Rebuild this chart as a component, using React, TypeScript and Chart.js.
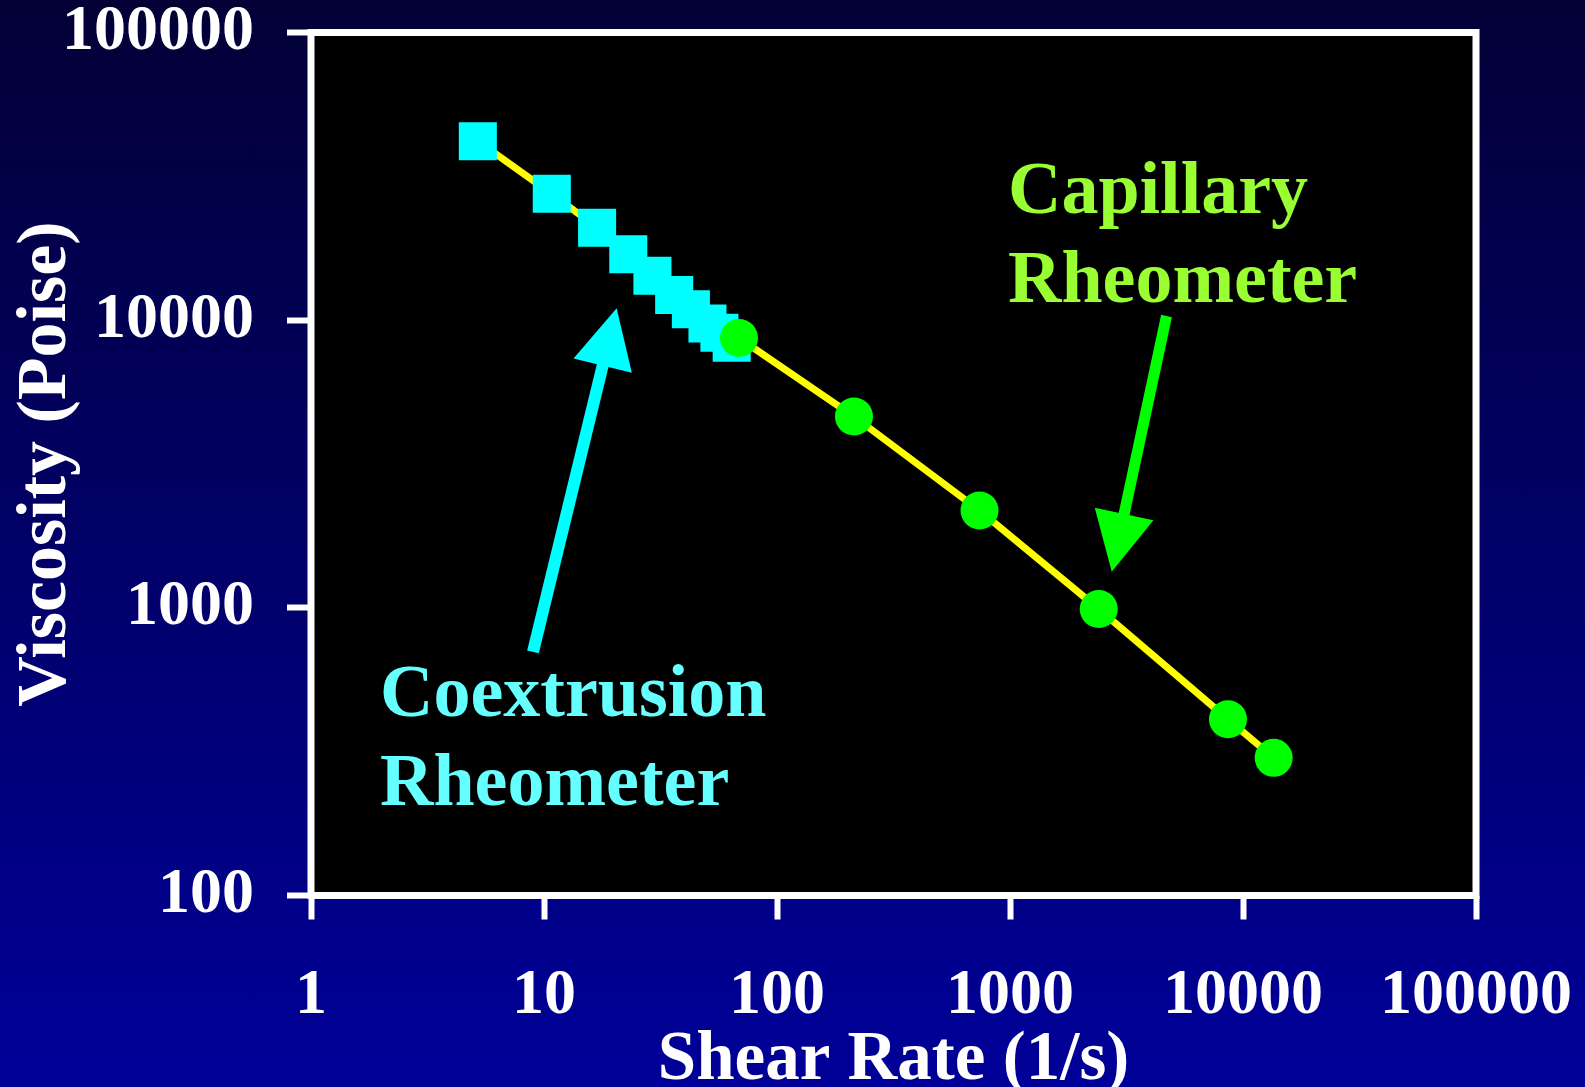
import React, { useEffect, useRef } from "react";
import { Chart, registerables } from "chart.js";

Chart.register(...registerables);

// ---- data ----
const coexShearRate = [5.2, 10.8, 16.9, 23.0, 29.2, 36.2, 42.7, 50.3, 56.6, 63.9];
const coexViscosity = [41900, 27500, 20970, 16950, 14270, 12230, 10910, 9740, 9040, 8350];
const capShearRate = [68.7, 214, 740, 2404, 8620, 13540];
const capViscosity = [8670, 4625, 2180, 991, 410, 301];
const xTickValues = [1, 10, 100, 1000, 10000, 100000];
const yTickValues = [100, 1000, 10000, 100000];
const xTitle = "Shear Rate (1/s)";
const yTitle = "Viscosity (Poise)";
const coexLabel = ["Coextrusion", "Rheometer"];
const capLabel = ["Capillary", "Rheometer"];
// annotation anchors (data coordinates)
const coexLabelAt = [1.977, 421];
const capLabelAt = [980, 23640];
const coexArrowFrom = [8.97, 702.5];
const coexArrowTo = [20.5, 11000];
const capArrowFrom = [4696, 10340];
const capArrowTo = [2733, 1336];

const FONT = "'Liberation Serif', 'Times New Roman', serif";

function drawArrow(ctx: CanvasRenderingContext2D, x1: number, y1: number, x2: number, y2: number, color: string, shaft: number, headLen: number, headW: number) {
  const dx = x2 - x1;
  const dy = y2 - y1;
  const len = Math.hypot(dx, dy);
  const ux = dx / len;
  const uy = dy / len;
  const bx = x2 - ux * headLen;
  const by = y2 - uy * headLen;
  ctx.save();
  ctx.strokeStyle = color;
  ctx.fillStyle = color;
  ctx.lineWidth = shaft;
  ctx.lineCap = "butt";
  ctx.beginPath();
  ctx.moveTo(x1, y1);
  ctx.lineTo(bx + ux * 2, by + uy * 2);
  ctx.stroke();
  ctx.beginPath();
  ctx.moveTo(x2, y2);
  ctx.lineTo(bx - uy * headW / 2, by + ux * headW / 2);
  ctx.lineTo(bx + uy * headW / 2, by - ux * headW / 2);
  ctx.closePath();
  ctx.fill();
  ctx.restore();
}

const decorPlugin = {
  id: "decor",
  beforeDraw(chart: any) {
    const { ctx, chartArea: a } = chart;
    ctx.save();
    ctx.fillStyle = "#000000";
    ctx.fillRect(a.left, a.top, a.right - a.left, a.bottom - a.top);
    ctx.restore();
  },
  beforeDatasetsDraw(chart: any) {
    const { ctx, chartArea: a } = chart;
    ctx.save();
    ctx.strokeStyle = "#ffffff";
    ctx.lineWidth = 7;
    ctx.strokeRect(a.left, a.top, a.right - a.left, a.bottom - a.top);
    ctx.restore();
  },
  afterDatasetsDraw(chart: any) {
    const { ctx } = chart;
    const xs = chart.scales.x;
    const ys = chart.scales.y;
    const px = (v: number) => xs.getPixelForValue(v);
    const py = (v: number) => ys.getPixelForValue(v);

    drawArrow(ctx, px(coexArrowFrom[0]), py(coexArrowFrom[1]), px(coexArrowTo[0]), py(coexArrowTo[1]), "#00ffff", 12, 59, 60);
    drawArrow(ctx, px(capArrowFrom[0]), py(capArrowFrom[1]), px(capArrowTo[0]), py(capArrowTo[1]), "#00ff00", 11, 59, 60);

    ctx.save();
    ctx.font = `bold 74px ${FONT}`;
    ctx.textAlign = "left";
    ctx.textBaseline = "alphabetic";
    ctx.fillStyle = "#99ff33";
    capLabel.forEach((t, i) => ctx.fillText(t, px(capLabelAt[0]), py(capLabelAt[1]) + i * 89));
    ctx.fillStyle = "#66ffff";
    coexLabel.forEach((t, i) => ctx.fillText(t, px(coexLabelAt[0]), py(coexLabelAt[1]) + i * 89));
    ctx.restore();
  },
};

function zeroPadding(s: any) {
  s.paddingLeft = 0;
  s.paddingRight = 0;
  s.paddingTop = 0;
  s.paddingBottom = 0;
}

export default function App() {
  const ref = useRef<HTMLCanvasElement | null>(null);

  useEffect(() => {
    document.body.style.margin = "0";
    document.body.style.overflow = "hidden";
    if (!ref.current) return;

    const allX = [...coexShearRate, ...capShearRate];
    const allY = [...coexViscosity, ...capViscosity];
    const linePts = allX.map((x, i) => ({ x, y: allY[i] })).sort((a, b) => a.x - b.x);

    const tickFont = { family: FONT, size: 64, weight: "bold" as const, lineHeight: 1.0 };

    const chart = new Chart(ref.current, {
      type: "scatter",
      data: {
        datasets: [
          {
            label: "Capillary",
            data: capShearRate.map((x, i) => ({ x, y: capViscosity[i] })),
            pointStyle: "circle",
            pointRadius: 19,
            pointBackgroundColor: "#00ff00",
            pointBorderColor: "#00ff00",
            pointBorderWidth: 0,
            showLine: false,
            order: 0,
          },
          {
            label: "Coextrusion",
            data: coexShearRate.map((x, i) => ({ x, y: coexViscosity[i] })),
            pointStyle: "rect",
            pointRadius: 26.9,
            pointBackgroundColor: "#00ffff",
            pointBorderColor: "#00ffff",
            pointBorderWidth: 0,
            showLine: false,
            order: 1,
          },
          {
            label: "Fit",
            data: linePts,
            showLine: true,
            borderColor: "#ffff00",
            borderWidth: 7,
            pointRadius: 0,
            tension: 0,
            order: 2,
          },
        ],
      },
      options: {
        responsive: false,
        animation: false,
        devicePixelRatio: 1,
        layout: { padding: { top: 32.5, right: 109, bottom: 0, left: 0 } },
        plugins: { legend: { display: false }, tooltip: { enabled: false } },
        scales: {
          x: {
            type: "logarithmic",
            min: 1,
            max: 100000,
            afterBuildTicks: (s: any) => {
              s.ticks = xTickValues.map((v) => ({ value: v }));
            },
            afterFit: (s: any) => {
              s.height = 1087 - 895.5;
              zeroPadding(s);
            },
            grid: { drawOnChartArea: false, drawTicks: true, tickLength: 24, tickWidth: 6, tickColor: "#ffffff", color: "#ffffff" },
            border: { display: false },
            ticks: {
              color: "#ffffff",
              font: tickFont,
              padding: 45,
              maxRotation: 0,
              autoSkip: false,
              callback: (v: any) => String(v),
            },
            title: {
              display: true,
              text: xTitle,
              color: "#ffffff",
              font: { family: FONT, size: 69, weight: "bold", lineHeight: 0.75 },
              padding: 0,
            },
          },
          y: {
            type: "logarithmic",
            min: 100,
            max: 100000,
            afterBuildTicks: (s: any) => {
              s.ticks = yTickValues.map((v) => ({ value: v }));
            },
            afterFit: (s: any) => {
              s.width = 311;
              zeroPadding(s);
            },
            grid: { drawOnChartArea: false, drawTicks: true, tickLength: 24, tickWidth: 6, tickColor: "#ffffff", color: "#ffffff" },
            border: { display: false },
            ticks: {
              color: "#ffffff",
              font: tickFont,
              padding: 33,
              autoSkip: false,
              callback: (v: any) => String(v),
            },
            title: {
              display: true,
              text: yTitle,
              color: "#ffffff",
              font: { family: FONT, size: 70, weight: "bold", lineHeight: 1.2 },
              padding: { top: 5, bottom: 0 },
            },
          },
        },
      },
      plugins: [decorPlugin],
    });

    return () => chart.destroy();
  }, []);

  return (
    <div
      style={{
        position: "absolute",
        left: 0,
        top: 0,
        width: 1585,
        height: 1087,
        background: "linear-gradient(to bottom, #030036 0%, #000099 100%)",
        overflow: "hidden",
      }}
    >
      <canvas ref={ref} width={1585} height={1087} style={{ display: "block", width: 1585, height: 1087 }} />
    </div>
  );
}
